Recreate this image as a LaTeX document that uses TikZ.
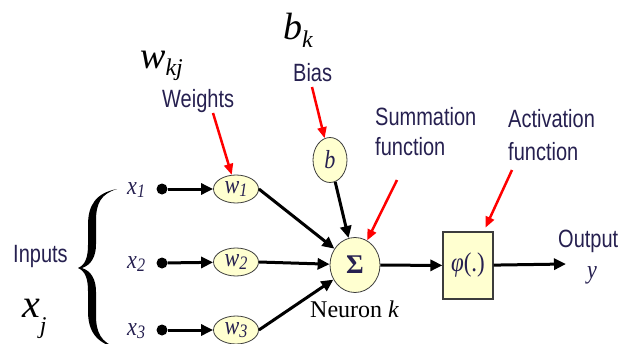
\documentclass[tikz,border=0pt]{standalone}
\usepackage{fontspec}
\setmainfont{Liberation Serif}
\newfontfamily\nsans[FakeStretch=0.8]{Liberation Sans}
\newfontfamily\nserif[FakeStretch=0.85]{Liberation Serif}
\usetikzlibrary{arrows.meta,shapes.geometric}
\definecolor{lbl}{RGB}{38,32,80}
\definecolor{cream}{RGB}{255,255,208}
\definecolor{edgegray}{RGB}{60,60,60}
\begin{document}
\begin{tikzpicture}[x=1pt,y=-1pt,
  sanslbl/.style={font=\nsans\fontsize{25}{30}\selectfont, text=lbl, inner sep=0, anchor=base west},
  bluelbl/.style={font=\nserif\fontsize{26}{28}\selectfont\itshape, text=lbl, inner sep=0, anchor=base west},
  bigmath/.style={font=\fontsize{38}{40}\selectfont\itshape, text=black, inner sep=0, anchor=base west},
  wnode/.style={ellipse, draw=edgegray, line width=0.8pt, fill=cream, minimum width=45pt, minimum height=28pt, inner sep=0, font=\nserif\fontsize{26}{28}\selectfont\itshape, text=lbl},
  flow/.style={line width=3pt, -{Triangle[length=12pt,width=11pt]}},
  pointer/.style={red, line width=2.5pt, -{Triangle[length=11pt,width=9pt]}},
  blob/.style={circle, fill=black, minimum size=11pt, inner sep=0}
]
\useasboundingbox (0,0) rectangle (621,343);

% big symbols
\node[bigmath] (wkj) at (140,68) {w\raisebox{-7pt}{\fontsize{24}{24}\selectfont kj}};
\node[bigmath] (bk) at (283,39) {b\raisebox{-8pt}{\fontsize{24}{24}\selectfont k}};
\node[bigmath, font=\fontsize{40}{40}\selectfont\itshape] (xj) at (22,317) {x\raisebox{-16pt}{\fontsize{24}{24}\selectfont j}};

% sans labels
\node[sanslbl] (bias) at (293,81) {Bias};
\node[sanslbl] (weights) at (162,107) {Weights};
\node[sanslbl] (summ1) at (375,125) {Summation};
\node[sanslbl] (summ2) at (375,155) {function};
\node[sanslbl] (act1) at (508,127) {Activation};
\node[sanslbl] (act2) at (508,160) {function};
\node[sanslbl] (inputs) at (13,262) {Inputs};
\node[sanslbl] (output) at (558,247) {Output};

% brace (drawn shape)
\fill[black] (117,189) .. controls (96,193) and (88,205) .. (88,225)
  -- (88,245) .. controls (88,258) and (85,265) .. (78,268)
  .. controls (85,271) and (88,278) .. (88,291)
  -- (88,311) .. controls (88,331) and (96,343) .. (117,348)
  .. controls (101,342) and (96,333) .. (96,315)
  -- (96,292) .. controls (96,279) and (91,271) .. (82,268)
  .. controls (91,265) and (96,257) .. (96,244)
  -- (96,221) .. controls (96,203) and (101,194) .. (117,189) -- cycle;

% input labels
\node[bluelbl] (x1) at (127,194) {x\raisebox{-3pt}{\fontsize{19}{19}\selectfont 1}};
\node[bluelbl] (x2) at (127,268) {x\raisebox{-3pt}{\fontsize{19}{19}\selectfont 2}};
\node[bluelbl] (x3) at (127,335) {x\raisebox{-3pt}{\fontsize{19}{19}\selectfont 3}};

% dots
\node[blob] (d1) at (162,189) {};
\node[blob] (d2) at (162,263) {};
\node[blob] (d3) at (162,330) {};

% weight ellipses
\node[wnode] (w1) at (236,189) {w\raisebox{-3pt}{\fontsize{19}{19}\selectfont 1}};
\node[wnode] (w2) at (236,262) {w\raisebox{-3pt}{\fontsize{19}{19}\selectfont 2}};
\node[wnode] (w3) at (236,330) {w\raisebox{-3pt}{\fontsize{19}{19}\selectfont 3}};

% bias
\node[wnode, minimum width=34pt, minimum height=45pt] (b) at (330,160) {b};

% summation
\node[ellipse, draw=edgegray, line width=0.8pt, fill=cream, minimum width=50pt, minimum height=55pt, inner sep=0, text=lbl, font=\fontsize{27}{28}\selectfont\bfseries] (sigma) at (355,265) {Σ};
\node[inner sep=0, anchor=base west, font=\fontsize{24}{26}\selectfont] (neuron) at (310,317) {Neuron \textit{k}};

% activation
\node[draw=edgegray, line width=1.2pt, fill=cream, minimum width=50pt, minimum height=67pt, inner sep=0, text=lbl, font=\nserif\fontsize{27}{28}\selectfont] (phi) at (468,265.5) {\textit{φ}(.)};

% output
\node[bluelbl] (y) at (587,278) {y};
\coordinate (outend) at (566,264);

% black connectors
\draw[flow] (d1) -- (w1);
\draw[flow] (d2) -- (w2);
\draw[flow] (d3) -- (w3);
\draw[flow] (w1.east) -- (sigma);
\draw[flow] (w2.east) -- (sigma);
\draw[flow] (w3.east) -- (sigma);
\draw[flow] (b) -- (sigma);
\draw[flow] (sigma) -- (phi);
\draw[flow] (phi) -- (outend);

% red pointers
\coordinate (wstart) at (213,113);
\coordinate (bstart) at (312,87);
\coordinate (sstart) at (397,180);
\coordinate (astart) at (512,170);
\draw[pointer] (wstart) -- (w1);
\draw[pointer] (bstart) -- (b);
\draw[pointer] (sstart) -- (sigma);
\draw[pointer, shorten >=4pt] (astart) -- (phi);
\end{tikzpicture}
\end{document}
